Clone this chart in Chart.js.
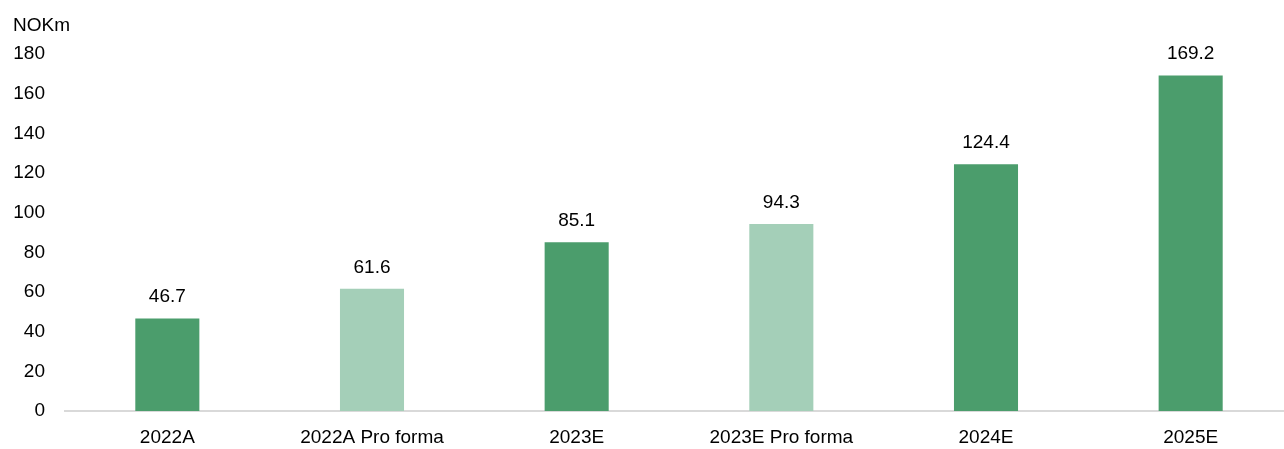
<!DOCTYPE html>
<html>
<head>
<meta charset="utf-8">
<script src="https://cdn.jsdelivr.net/npm/chart.js@4"></script>
<style>
  html, body { margin: 0; padding: 0; background: #fff; overflow: hidden; }
  #wrap { width: 1293px; height: 449px; }
</style>
</head>
<body>
<div id="wrap"><canvas id="revChart"></canvas></div>
<script>
// 카테고리 / 값
const categories = ['2022A', '2022A Pro forma', '2023E', '2023E Pro forma', '2024E', '2025E'];
const values = [46.7, 61.6, 85.1, 94.3, 124.4, 169.2];
const proForma = [false, true, false, true, false, false];
const yTicks = [0, 20, 40, 60, 80, 100, 120, 140, 160, 180];
const unitLabel = 'NOKm';

const DARK = '#4b9d6c';
const LIGHT = '#a4cfb8';
const FONT = "'Liberation Sans', Arial, sans-serif";

// 막대 위 값 라벨 + 단위 표시
const labelPlugin = {
  id: 'barLabels',
  afterDatasetsDraw(chart) {
    const ctx = chart.ctx;
    ctx.save();
    ctx.fillStyle = '#000';
    ctx.font = '19px ' + FONT;
    ctx.textAlign = 'center';
    ctx.textBaseline = 'alphabetic';
    chart.getDatasetMeta(0).data.forEach(function(bar, i) {
      ctx.fillText(values[i].toFixed(1), bar.x, bar.y - 16);
    });
    ctx.textAlign = 'left';
    ctx.fillText(unitLabel, 13, 31);
    ctx.restore();
  }
};

new Chart(document.getElementById('revChart'), {
  type: 'bar',
  data: {
    labels: categories,
    datasets: [{
      data: values,
      backgroundColor: proForma.map(p => p ? LIGHT : DARK),
      barPercentage: 0.313,
      categoryPercentage: 1.0
    }]
  },
  options: {
    responsive: true,
    maintainAspectRatio: false,
    animation: false,
    layout: { padding: { top: 54, right: 0, bottom: 0, left: 0 } },
    plugins: {
      legend: { display: false },
      tooltip: { enabled: false }
    },
    scales: {
      x: {
        grid: { display: false, drawTicks: false },
        border: { display: true, color: '#d9d9d9', width: 2 },
        ticks: { color: '#000', font: { family: FONT, size: 19 }, padding: 15, maxRotation: 0 },
        afterFit(scale) { scale.height = 38; }
      },
      y: {
        min: 0,
        max: 180,
        grid: { display: false, drawTicks: false },
        border: { display: false },
        afterBuildTicks(scale) { scale.ticks = yTicks.map(v => ({ value: v })); },
        ticks: { color: '#000', font: { family: FONT, size: 19 }, padding: 20 },
        afterFit(scale) { scale.width = 65; }
      }
    }
  },
  plugins: [labelPlugin]
});
</script>
</body>
</html>
